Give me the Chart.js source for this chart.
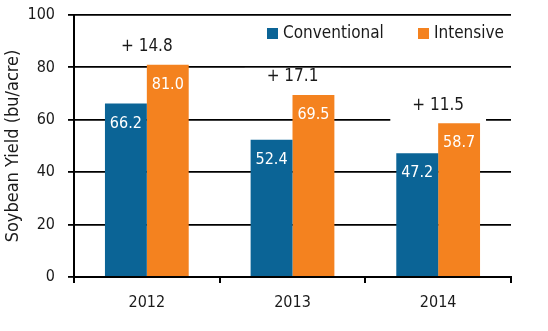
<!DOCTYPE html>
<html>
<head>
<meta charset="utf-8">
<script src="https://cdn.jsdelivr.net/npm/chart.js@4.4.1/dist/chart.umd.min.js"></script>
<style>
    html, body { margin: 0; padding: 0; background: #fff; }
    #wrap { width: 548px; height: 331px; }
</style>
</head>
<body>
<div id="wrap"><canvas id="yieldChart" width="548" height="331"></canvas></div>
<script>
const years = ["2012", "2013", "2014"];
const conventional = [66.2, 52.4, 47.2];
const intensive = [81.0, 69.5, 58.7];
const gainLabels = ["+ 14.8", "+ 17.1", "+ 11.5"];
const yTicks = [0, 20, 40, 60, 80, 100];

const FONT = "'DejaVu Sans Condensed', 'DejaVu Sans', sans-serif";
const BLUE = "#0b6496";
const ORANGE = "#f4821f";

// labels inside bars, gain labels above each pair, and the legend
const labelPlugin = {
    id: "labels",
    afterDatasetsDraw(chart) {
        const ctx = chart.ctx;
        ctx.save();
        ctx.textAlign = "center";
        ctx.textBaseline = "middle";

        chart.data.datasets.forEach((ds, i) => {
            chart.getDatasetMeta(i).data.forEach((bar, j) => {
                ctx.fillStyle = "#fff";
                ctx.font = "16px " + FONT;
                ctx.fillText(ds.data[j].toFixed(1), bar.x, bar.y + 20);
            });
        });

        const orangeBars = chart.getDatasetMeta(1).data;
        gainLabels.forEach((txt, j) => {
            const x = chart.scales.x.getPixelForValue(j);
            const y = orangeBars[j].y - 18;
            ctx.font = "17px " + FONT;
            const w = ctx.measureText(txt).width;
            ctx.fillStyle = "#fff";
            ctx.fillRect(x - w / 2 - 22, y - 9, w + 44, 25);
            ctx.fillStyle = "#1a1a1a";
            ctx.fillText(txt, x, y);
        });

        // legend
        ctx.textAlign = "left";
        ctx.font = "17px " + FONT;
        const items = [[267, BLUE], [418, ORANGE]];
        chart.data.datasets.forEach((ds, i) => {
            const lx = items[i][0];
            ctx.fillStyle = items[i][1];
            ctx.fillRect(lx, 28, 11, 11);
            ctx.fillStyle = "#1a1a1a";
            ctx.fillText(ds.label, lx + 16, 34);
        });
        ctx.restore();
    }
};

new Chart(document.getElementById("yieldChart").getContext("2d"), {
    type: "bar",
    data: {
        labels: years,
        datasets: [
            {
                label: "Conventional",
                data: conventional,
                backgroundColor: BLUE,
                categoryPercentage: 0.575,
                barPercentage: 1.0,
            },
            {
                label: "Intensive",
                data: intensive,
                backgroundColor: ORANGE,
                categoryPercentage: 0.575,
                barPercentage: 1.0,
            },
        ],
    },
    options: {
        responsive: false,
        animation: false,
        layout: {
            padding: { top: 15, right: 37, left: 0, bottom: 0 },
        },
        plugins: {
            legend: { display: false },
            tooltip: { enabled: false },
        },
        scales: {
            x: {
                grid: {
                    display: true,
                    offset: true,
                    drawOnChartArea: false,
                    drawTicks: true,
                    tickLength: 6,
                    color: "#000",
                    lineWidth: 2,
                },
                border: { color: "#000", width: 2 },
                ticks: {
                    color: "#1a1a1a",
                    padding: 10,
                    font: { family: FONT, size: 16 },
                },
                afterFit(scale) {
                    scale.height = 54;
                },
            },
            y: {
                min: 0,
                max: 100,
                afterBuildTicks(scale) {
                    scale.ticks = yTicks.map((v) => ({ value: v }));
                },
                grid: {
                    color: "#000",
                    lineWidth: 1.8,
                    drawTicks: true,
                    tickLength: 6,
                },
                border: { color: "#000", width: 2 },
                ticks: {
                    color: "#1a1a1a",
                    padding: 13,
                    font: { family: FONT, size: 16 },
                },
                title: {
                    display: true,
                    text: "Soybean Yield (bu/acre)",
                    color: "#1a1a1a",
                    font: { family: FONT, size: 18 },
                    padding: { top: 3, bottom: 0 },
                },
                afterFit(scale) {
                    scale.width = 74;
                    scale.paddingTop = 0;
                    scale.paddingBottom = 0;
                },
            },
        },
    },
    plugins: [labelPlugin],
});
</script>
</body>
</html>
